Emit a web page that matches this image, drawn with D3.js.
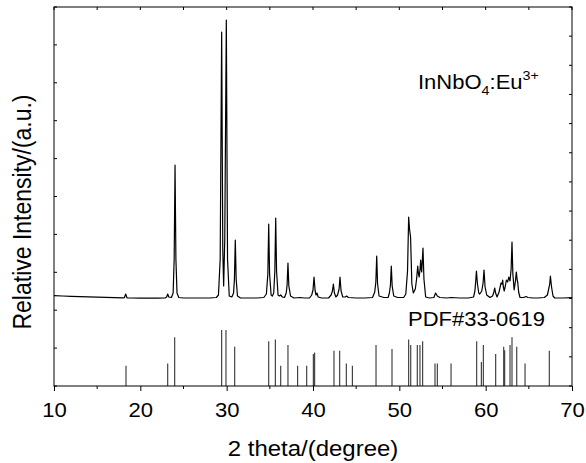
<!DOCTYPE html>
<html>
<head>
  <meta charset="utf-8">
  <title>XRD InNbO4:Eu3+</title>
  <script src="https://cdn.jsdelivr.net/npm/d3@7"></script>
  <style>
    body { margin: 0; background: #fff; }
    text { font-family: "Liberation Sans", Arial, sans-serif; fill: #000; }
  </style>
</head>
<body>
<div id="chart"></div>
<script>
var curve = [
  [10,3.3],[11,3],[12,2.7],[13,2.4],[14,2.1],[15,1.9],[16,1.6],[17,1.3],[18,1.1],
  [18.15,1.3],[18.3,5],[18.45,1.2],
  [19,1],[20,0.8],[21,0.9],[22,0.9],[22.9,1.2],
  [23.05,2],[23.17,5],[23.3,2],[23.6,1.5],
  [23.8,6],[23.92,40],[24.02,134],[24.12,40],[24.25,6],[24.45,1.5],
  [25,1],[26,1],[27,1],[28,1],[28.8,1.5],
  [29.05,4],[29.25,40],[29.42,267],[29.55,50],[29.65,13],[29.78,60],[29.96,279],[30.1,40],[30.3,3],[30.6,2],
  [30.8,6],[30.9,20],[31.0,59],[31.1,20],[31.25,3],
  [31.6,1],[32.5,1],[33.5,1],[34.3,1.5],
  [34.6,5],[34.77,25],[34.87,75],[34.97,25],[35.15,4],[35.29,3],
  [35.45,6],[35.58,28],[35.68,81],[35.78,28],[35.95,4],
  [36.1,3],[36.26,4],[36.45,2],[36.7,1.5],
  [36.9,6],[37.0,14],[37.1,36],[37.2,13],[37.4,3],
  [37.8,1],[38.5,1.5],[39,1],[39.6,1],
  [39.85,4],[40.0,9],[40.12,22],[40.25,8],[40.35,4],[40.46,6],[40.6,2],
  [41,1],[41.8,1],
  [42.1,4],[42.25,8],[42.36,15],[42.48,6],[42.65,2],[42.85,4],[43.02,10],[43.13,22],[43.25,8],[43.45,2],
  [43.75,2],[43.9,3],[44.1,1.5],
  [45,1],[46,1],[46.9,1.5],
  [47.15,7],[47.28,17],[47.38,43],[47.48,15],[47.65,3],
  [48.2,1.5],[48.7,1.5],
  [48.85,6],[48.97,14],[49.07,33],[49.17,13],[49.35,3],
  [49.8,1.5],[50.5,1.5],
  [50.75,5],[50.95,28],[51.08,82],[51.18,70],[51.3,62],[51.45,15],[51.62,6],
  [51.85,10],[52.0,20],[52.13,33],[52.22,25],[52.3,22],[52.4,30],[52.47,39],[52.53,30],[52.59,27],[52.66,38],[52.74,51],[52.85,20],[53.05,2],
  [53.5,1],[54,1.5],[54.2,6],[54.4,3],[54.7,1.5],
  [55.5,1],[56,1.5],[57,1],[58,1],[58.6,2],
  [58.75,8],[58.85,18],[58.93,28],[59.05,15],[59.2,6],[59.31,5],
  [59.55,8],[59.7,16],[59.81,29],[59.93,12],[60.12,4],
  [60.5,1.5],[60.8,3],[60.95,7],[61.05,11],[61.15,6],[61.32,2],
  [61.55,7],[61.78,16],[61.9,15],[61.97,19],[62.05,12],[62.15,8],
  [62.3,14],[62.4,19],[62.55,17],[62.67,22],[62.82,18],[62.95,30],[63.05,57],[63.15,25],[63.3,9],
  [63.45,18],[63.55,27],[63.65,19],[63.71,17],[63.82,7],[63.98,1.5],
  [64.4,1.5],[64.67,2.5],[64.9,1.5],
  [65.5,1],[66,1],[66.8,1.5],
  [67.15,4],[67.3,10],[67.42,15],[67.5,23],[67.58,16],[67.65,11],[67.8,3],[68,1],
  [68.5,1],[69,1],[70,1.3]
];

// PDF#33-0619 reference lines: positions and relative intensities
var pdfPos = [18.34, 23.17, 23.98, 29.42, 29.92, 30.93, 34.87, 35.64, 36.26, 37.1,
              38.22, 39.27, 40.04, 40.19, 42.43, 43.09, 43.86, 44.56, 47.3, 49.15,
              51.08, 51.32, 52.08, 52.39, 52.7, 54.13, 54.4, 55.99, 58.96, 59.5,
              59.73, 61.16, 62.09, 62.2, 62.82, 63.05, 63.6, 64.56, 67.37];
var pdfInt = [36, 40, 87, 100, 100, 70, 80, 83, 36, 73,
              36, 36, 57, 60, 63, 63, 40, 36, 73, 66,
              83, 73, 73, 73, 80, 40, 40, 40, 80, 43,
              73, 57, 70, 64, 73, 87, 70, 40, 63];

var xTicks = [10, 20, 30, 40, 50, 60, 70];
var xMinor = [15, 25, 35, 45, 55, 65];
var sampleLabel = "InNbO";
var pdfLabel = "PDF#33-0619";

var W = 586, H = 463;
var L = 54, R = 572, T = 7, B = 386;

var svg = d3.select("#chart").append("svg")
  .attr("width", W).attr("height", H);

var x = d3.scaleLinear().domain([10, 70]).range([L, R]);
var yCurve = d3.scaleLinear().domain([0, 280]).range([299, 19]);
var yPdf = d3.scaleLinear().domain([0, 100]).range([B, 330]);
var yLeft = d3.scaleLinear().domain([0, 10]).range([B, T]);
var yRight = d3.scaleLinear().domain([0, 13]).range([B, T]);

// pdf sticks
svg.append("g").selectAll("line")
  .data(pdfPos)
  .enter().append("line")
  .attr("x1", function(d) { return x(d); })
  .attr("x2", function(d) { return x(d); })
  .attr("y1", B)
  .attr("y2", function(d, i) { return yPdf(pdfInt[i]); })
  .attr("stroke", "#333")
  .attr("stroke-width", 1.1);

// measured curve
var line = d3.line()
  .x(function(d) { return x(d[0]); })
  .y(function(d) { return yCurve(d[1]); });

svg.append("path")
  .datum(curve)
  .attr("d", line)
  .attr("fill", "none")
  .attr("stroke", "#000")
  .attr("stroke-width", 1.2)
  .attr("stroke-linejoin", "round");

// frame
svg.append("rect")
  .attr("x", L).attr("y", T)
  .attr("width", R - L).attr("height", B - T)
  .attr("fill", "none").attr("stroke", "#000").attr("stroke-width", 1);

// bottom axis
var bottom = svg.append("g").attr("transform", "translate(0," + B + ")");
bottom.call(d3.axisBottom(x).tickValues(xTicks).tickSize(5).tickSizeOuter(0).tickFormat(d3.format("d")));
bottom.select(".domain").remove();
bottom.selectAll("text")
  .attr("y", 0).attr("dy", 0)
  .attr("transform", function(d) { return "translate(0,31) scale(1.05,1)"; })
  .style("font-size", "21px");
bottom.selectAll(".tick").each(function(d) {
  d3.select(this).select("text").attr("transform", "translate(0,31) scale(1.05,1)");
});
svg.append("g").selectAll("line").data(xMinor).enter().append("line")
  .attr("x1", function(d) { return x(d); }).attr("x2", function(d) { return x(d); })
  .attr("y1", B).attr("y2", B + 3).attr("stroke", "#000");

// top ticks (inside)
svg.append("g").selectAll("line").data(xTicks.concat(xMinor)).enter().append("line")
  .attr("x1", function(d) { return x(d); }).attr("x2", function(d) { return x(d); })
  .attr("y1", T).attr("y2", T + 3).attr("stroke", "#000");

// left / right ticks (inside)
svg.append("g").selectAll("line").data(yLeft.ticks(10)).enter().append("line")
  .attr("x1", L).attr("x2", L + 3)
  .attr("y1", function(d) { return yLeft(d); }).attr("y2", function(d) { return yLeft(d); })
  .attr("stroke", "#000");
svg.append("g").selectAll("line").data(yRight.ticks(13)).enter().append("line")
  .attr("x1", R - 3).attr("x2", R)
  .attr("y1", function(d) { return yRight(d); }).attr("y2", function(d) { return yRight(d); })
  .attr("stroke", "#000");

// axis titles
svg.append("text")
  .attr("transform", "translate(313,456) scale(1.09,1)")
  .attr("text-anchor", "middle")
  .style("font-size", "22px")
  .text("2 theta/(degree)");

svg.append("text")
  .attr("transform", "translate(31,212) rotate(-90) scale(1,1.1)")
  .attr("text-anchor", "middle")
  .style("font-size", "23px")
  .text("Relative Intensity/(a.u.)");

// labels
var lab = svg.append("text")
  .attr("transform", "translate(418,89) scale(1.1,1)")
  .style("font-size", "20px");
lab.append("tspan").text(sampleLabel);
lab.append("tspan").attr("dy", 6).style("font-size", "13px").text("4");
lab.append("tspan").attr("dy", -6).text(":Eu");
lab.append("tspan").attr("dy", -9).style("font-size", "13px").text("3+");

svg.append("text")
  .attr("transform", "translate(408,326) scale(1.1,1)")
  .style("font-size", "20px")
  .text(pdfLabel);
</script>
</body>
</html>
